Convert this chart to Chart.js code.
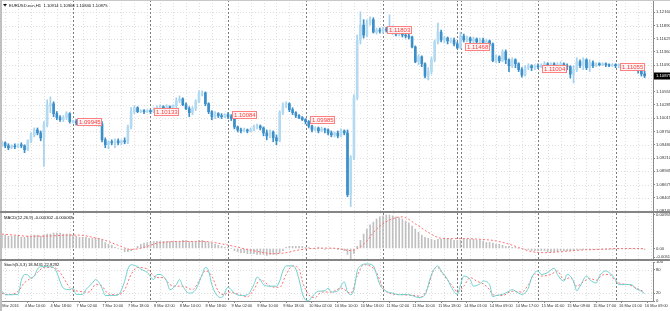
<!DOCTYPE html>
<html>
<head>
<meta charset="utf-8">
<script src="https://cdn.jsdelivr.net/npm/chart.js@4.4.1/dist/chart.umd.min.js"></script>
<style>
  html, body { margin: 0; padding: 0; background: #fff; }
  #wrap { position: relative; width: 670px; height: 311px; overflow: hidden; background: #fff; }
  canvas { position: absolute; left: 0; }
  .bar { position: absolute; z-index: 5; }
</style>
</head>
<body>
<div id="wrap">
  <canvas id="main" width="670" height="216" style="top:0"></canvas>
  <canvas id="macd" width="670" height="56" style="top:208px"></canvas>
  <canvas id="stoch" width="670" height="55" style="top:256px"></canvas>
  <div class="bar" style="left:0;top:0;width:670px;height:1px;background:#c8c8c8"></div>
  <div class="bar" style="left:0;top:0;width:2px;height:311px;background:#c0c0c0"></div>
  <div class="bar" style="left:0;top:211px;width:670px;height:2px;background:#858585"></div>
  <div class="bar" style="left:0;top:259px;width:670px;height:2px;background:#858585"></div>
</div>
<script>
// H1 bars, index 0 = 4 Mar 2016 02:00
const openP = [1.0948,1.0952,1.0946,1.0942,1.0946,1.0944,1.0948,1.0946,1.0938,1.0956,
  1.0968,1.0978,1.0972,1.0962,1.0988,1.1027,1.1031,1.1011,1.1003,1.0999,
  1.1003,1.1011,1.0995,1.0995,1.0992,1.0995,1.0992,1.0990,1.0992,1.0995,
  1.0992,1.0990,1.0958,1.0948,1.0954,1.0952,1.0956,1.0952,1.0956,1.0954,
  1.0984,1.1015,1.1023,1.1015,1.1017,1.1015,1.1017,1.1015,1.1019,1.1023,
  1.1025,1.1021,1.1025,1.1023,1.1027,1.1037,1.1041,1.1029,1.1021,1.1013,
  1.1021,1.1035,1.1051,1.1053,1.1031,1.1015,1.1005,1.1011,1.1007,1.1005,
  1.1009,1.1005,1.1001,1.0984,1.0978,1.0976,1.0978,1.0976,1.0978,1.0984,
  1.0986,1.0982,1.0972,1.0966,1.0974,1.0962,1.0956,1.1013,1.1027,1.1031,
  1.1019,1.1013,1.1007,1.1003,1.0999,1.0995,1.0986,1.0978,1.0982,1.0976,
  1.0980,1.0978,1.0972,1.0968,1.0972,1.0966,1.0976,1.0972,1.0847,1.0922,
  1.1043,1.1160,1.1190,1.1170,1.1194,1.1201,1.1176,1.1180,1.1178,1.1182,
  1.1180,1.1186,1.1176,1.1172,1.1174,1.1170,1.1168,1.1166,1.1146,1.1116,
  1.1126,1.1112,1.1087,1.1096,1.1120,1.1156,1.1176,1.1160,1.1164,1.1158,
  1.1160,1.1152,1.1144,1.1168,1.1160,1.1164,1.1158,1.1162,1.1156,1.1160,
  1.1154,1.1158,1.1152,1.1118,1.1126,1.1118,1.1136,1.1120,1.1108,1.1120,
  1.1112,1.1100,1.1089,1.1104,1.1108,1.1104,1.1108,1.1106,1.1108,1.1112,
  1.1110,1.1112,1.1108,1.1110,1.1112,1.1108,1.1106,1.1091,1.1100,1.1116,
  1.1108,1.1120,1.1104,1.1114,1.1108,1.1112,1.1110,1.1112,1.1110,1.1108,
  1.1110,1.1108,1.1108,1.1106,1.1108,1.1104,1.1106,1.1102,1.1098,1.10914];
const highP = [1.0956,1.0954,1.0950,1.0948,1.0950,1.0950,1.0952,1.0948,1.0958,1.0972,
  1.0982,1.0982,1.0976,1.0995,1.1039,1.1045,1.1035,1.1015,1.1007,1.1007,
  1.1015,1.1013,1.0997,1.0999,1.0997,1.0999,1.0997,1.0995,1.0997,1.0999,
  1.0997,1.0995,1.0962,1.0956,1.0958,1.0960,1.0960,1.0958,1.0962,1.0988,
  1.1023,1.1027,1.1025,1.1019,1.1019,1.1019,1.1019,1.1023,1.1027,1.1029,
  1.1027,1.1029,1.1027,1.1029,1.1043,1.1047,1.1043,1.1033,1.1025,1.1025,
  1.1039,1.1057,1.1057,1.1055,1.1033,1.1017,1.1015,1.1013,1.1011,1.1011,
  1.1013,1.1009,1.1003,1.0986,1.0982,1.0982,1.0980,1.0982,1.0988,1.0990,
  1.0988,1.0984,1.0978,1.0978,1.0976,1.0968,1.1017,1.1033,1.1035,1.1033,
  1.1023,1.1015,1.1009,1.1005,1.1001,1.0997,1.0988,1.0984,1.0984,1.0984,
  1.0982,1.0980,1.0976,1.0974,1.0976,1.0980,1.0978,1.0978,1.0926,1.1049,
  1.1170,1.1217,1.1201,1.1201,1.1207,1.1205,1.1184,1.1184,1.1186,1.1186,
  1.1211,1.1188,1.1180,1.1178,1.1176,1.1174,1.1172,1.1168,1.1148,1.1130,
  1.1128,1.1114,1.1104,1.1126,1.1160,1.1194,1.1180,1.1168,1.1166,1.1164,
  1.1164,1.1156,1.1176,1.1172,1.1168,1.1166,1.1166,1.1164,1.1164,1.1164,
  1.1162,1.1160,1.1154,1.1130,1.1128,1.1140,1.1140,1.1122,1.1124,1.1122,
  1.1114,1.1104,1.1108,1.1112,1.1110,1.1110,1.1112,1.1112,1.1116,1.1114,
  1.1114,1.1114,1.1114,1.1116,1.1114,1.1112,1.1108,1.1108,1.1124,1.1120,
  1.1124,1.1122,1.1120,1.1118,1.1114,1.1114,1.1114,1.1114,1.1112,1.1112,
  1.1112,1.1112,1.1110,1.1110,1.1110,1.1108,1.1108,1.1104,1.1100,1.10966];
const lowP = [1.0944,1.0942,1.0938,1.0940,1.0940,1.0942,1.0942,1.0932,1.0936,1.0952,
  1.0964,1.0968,1.0956,1.0904,1.0984,1.1013,1.1005,1.0999,1.0995,1.0995,
  1.0999,1.0992,1.0992,1.0988,1.0988,1.0990,1.0988,1.0986,1.0988,1.0990,
  1.0986,1.0954,1.0942,1.0940,1.0948,1.0942,1.0948,1.0948,1.0950,1.0950,
  1.0980,1.1011,1.1013,1.1013,1.1011,1.1013,1.1011,1.1013,1.1017,1.1019,
  1.1017,1.1019,1.1019,1.1021,1.1023,1.1033,1.1027,1.1019,1.1005,1.1009,
  1.1017,1.1033,1.1047,1.1027,1.1011,1.0999,1.1001,1.1003,1.1001,1.1003,
  1.1001,1.0997,1.0980,1.0974,1.0972,1.0974,1.0972,1.0974,1.0976,1.0980,
  1.0978,1.0966,1.0958,1.0962,1.0954,1.0948,1.0954,1.1009,1.1023,1.1015,
  1.1009,1.1003,1.1001,1.0997,1.0990,1.0982,1.0974,1.0976,1.0972,1.0974,
  1.0972,1.0968,1.0964,1.0964,1.0962,1.0964,1.0968,1.0843,1.0823,1.0918,
  1.1039,1.1152,1.1164,1.1166,1.1190,1.1174,1.1172,1.1174,1.1174,1.1176,
  1.1178,1.1172,1.1168,1.1168,1.1166,1.1164,1.1162,1.1144,1.1114,1.1110,
  1.1106,1.1083,1.1079,1.1091,1.1116,1.1152,1.1156,1.1154,1.1152,1.1154,
  1.1148,1.1142,1.1142,1.1156,1.1156,1.1154,1.1152,1.1150,1.1152,1.1150,
  1.1150,1.1148,1.1116,1.1114,1.1114,1.1116,1.1112,1.1096,1.1104,1.1104,
  1.1096,1.1085,1.1087,1.1100,1.1098,1.1100,1.1102,1.1104,1.1106,1.1106,
  1.1108,1.1104,1.1106,1.1106,1.1104,1.1100,1.1083,1.1073,1.1096,1.1104,
  1.1100,1.1100,1.1096,1.1104,1.1106,1.1108,1.1108,1.1106,1.1106,1.1106,
  1.1104,1.1104,1.1102,1.1102,1.1100,1.1102,1.1098,1.1093,1.1087,1.10840];
const closeP = [1.0952,1.0946,1.0942,1.0946,1.0944,1.0948,1.0946,1.0938,1.0956,1.0968,
  1.0978,1.0972,1.0962,1.0988,1.1027,1.1031,1.1011,1.1003,1.0999,1.1003,
  1.1011,1.0995,1.0995,1.0992,1.0995,1.0992,1.0990,1.0992,1.0995,1.0992,
  1.0990,1.0958,1.0948,1.0954,1.0952,1.0956,1.0952,1.0956,1.0954,1.0984,
  1.1015,1.1023,1.1015,1.1017,1.1015,1.1017,1.1015,1.1019,1.1023,1.1025,
  1.1021,1.1025,1.1023,1.1027,1.1037,1.1041,1.1029,1.1021,1.1013,1.1021,
  1.1035,1.1051,1.1053,1.1031,1.1015,1.1005,1.1011,1.1007,1.1005,1.1009,
  1.1005,1.1001,1.0984,1.0978,1.0976,1.0978,1.0976,1.0978,1.0984,1.0986,
  1.0982,1.0972,1.0966,1.0974,1.0962,1.0956,1.1013,1.1027,1.1031,1.1019,
  1.1013,1.1007,1.1003,1.0999,1.0995,1.0986,1.0978,1.0982,1.0976,1.0980,
  1.0978,1.0972,1.0968,1.0972,1.0966,1.0976,1.0972,1.0847,1.0922,1.1043,
  1.1160,1.1190,1.1170,1.1194,1.1201,1.1176,1.1180,1.1178,1.1182,1.1180,
  1.1186,1.1176,1.1172,1.1174,1.1170,1.1168,1.1166,1.1146,1.1116,1.1126,
  1.1112,1.1087,1.1096,1.1120,1.1156,1.1176,1.1160,1.1164,1.1158,1.1160,
  1.1152,1.1144,1.1168,1.1160,1.1164,1.1158,1.1162,1.1156,1.1160,1.1154,
  1.1158,1.1152,1.1118,1.1126,1.1118,1.1136,1.1120,1.1108,1.1120,1.1112,
  1.1100,1.1089,1.1104,1.1108,1.1104,1.1108,1.1106,1.1108,1.1112,1.1110,
  1.1112,1.1108,1.1110,1.1112,1.1108,1.1106,1.1091,1.1100,1.1116,1.1108,
  1.1120,1.1104,1.1114,1.1108,1.1112,1.1110,1.1112,1.1110,1.1108,1.1110,
  1.1108,1.1108,1.1106,1.1108,1.1104,1.1106,1.1102,1.1098,1.10914,1.10875];

const macdHist = [0.0038,0.0038,0.0035,0.0035,0.0035,0.0035,0.0032,0.0032,0.0035,0.0035,
  0.0038,0.0038,0.0035,0.0038,0.0041,0.0041,0.0044,0.0044,0.0044,0.0041,
  0.0041,0.0041,0.0038,0.0035,0.0032,0.0032,0.0032,0.0029,0.0029,0.0029,
  0.0029,0.0023,0.0017,0.0012,0.0009,0.0003,0.0000,-0.0003,-0.0009,-0.0009,
  -0.0006,0.0000,0.0006,0.0012,0.0015,0.0017,0.0017,0.0020,0.0020,0.0020,
  0.0020,0.0020,0.0020,0.0020,0.0020,0.0020,0.0023,0.0023,0.0020,0.0020,
  0.0020,0.0023,0.0023,0.0020,0.0017,0.0015,0.0012,0.0009,0.0006,0.0003,
  0.0003,0.0000,-0.0006,-0.0009,-0.0012,-0.0012,-0.0015,-0.0015,-0.0015,-0.0017,
  -0.0017,-0.0017,-0.0020,-0.0017,-0.0017,-0.0017,-0.0012,-0.0006,0.0003,0.0006,
  0.0006,0.0006,0.0006,0.0006,0.0003,0.0003,0.0000,0.0000,0.0003,0.0000,
  -0.0003,0.0000,0.0000,0.0000,-0.0003,-0.0003,-0.0006,-0.0017,-0.0029,-0.0015,
  0.0006,0.0023,0.0041,0.0055,0.0067,0.0075,0.0084,0.0090,0.0093,0.00955,
  0.0095,0.0093,0.0090,0.0087,0.0084,0.0078,0.0073,0.0064,0.0055,0.0046,
  0.0038,0.0032,0.0029,0.0026,0.0023,0.0026,0.0026,0.0026,0.0026,0.0026,
  0.0023,0.0023,0.0023,0.0026,0.0026,0.0026,0.0026,0.0023,0.0023,0.0020,
  0.0017,0.0017,0.0015,0.0012,0.0012,0.0009,0.0006,0.0006,0.0003,0.0003,
  0.0000,0.0000,-0.0003,-0.0003,-0.0006,-0.0006,-0.0006,-0.0006,-0.0006,-0.0009,
  -0.0009,-0.0009,-0.0009,-0.0006,-0.0006,-0.0006,-0.0006,-0.0006,-0.0003,-0.0003,
  -0.0003,-0.0003,-0.0003,-0.0003,-0.0003,-0.0003,-0.0003,-0.0003,-0.0003,-0.0003,
  -0.0001,-0.0001,-0.0001,-0.0001,-0.0001,-0.0001,-0.0001,-0.0001,-0.0001,-0.000302];
const macdSigBars = [0,4,8,12,16,20,24,28,32,36,40,44,48,52,56,60,64,68,72,76,80,84,88,92,96,
  100,104,108,112,116,120,124,128,132,136,140,144,148,152,156,160,164,168,172,176,180,184,188,192,196,199];
const macdSignal = [0.0041,0.0038,0.0035,0.0035,0.0036,0.0038,0.0038,0.0032,0.0023,0.0009,
  -0.0003,0.0003,0.0015,0.0019,0.0020,0.0020,0.0019,0.0013,0.0006,-0.0003,
  -0.0010,-0.0015,-0.0012,-0.0004,0.0000,0.0001,0.0000,-0.0006,0.0012,0.0055,
  0.0081,0.0090,0.0070,0.0046,0.0029,0.0028,0.0028,0.0026,0.0023,0.0015,
  0.0003,-0.0009,-0.0012,-0.0010,-0.0007,-0.0004,-0.0003,-0.0001,0.0000,0.0000,-0.000065];

const stochMainBars = [0,1,2,5,6,7,8,9,10,11,12,14,16,17,19,21,22,23,25,26,28,29,31,32,34,36,38,39,40,42,
  43,45,47,48,49,51,52,54,55,56,58,60,62,63,64,65,67,68,70,72,74,76,78,79,80,81,83,85,86,87,
  88,90,91,92,93,94,95,96,98,100,101,102,104,106,107,108,109,110,111,113,115,116,117,119,121,123,125,127,129,131,
  133,135,136,138,139,141,142,143,145,146,148,149,151,152,153,155,157,158,160,161,163,164,166,167,169,171,172,174,175,177,
  178,179,181,182,184,185,187,188,190,191,193,195,196,198,199];
const stochMain = [25,17,16,17,53,68,67,58,64,82,88,88,86,73,33,29,33,17,17,29,46,55,33,14,14,16,51,82,93,88,
  82,73,55,68,68,51,29,42,55,38,20,29,68,86,77,42,11,9,35,20,14,16,42,61,55,42,38,38,51,77,
  90,90,82,55,20,3,1,11,25,26,33,23,26,49,23,16,29,77,90,95,90,68,42,25,20,16,17,14,9,16,
  68,90,77,55,38,17,42,64,55,38,44,51,42,11,14,17,25,29,20,17,33,59,77,68,73,84,68,51,68,51,
  26,38,64,55,46,64,77,73,55,42,42,42,33,25,18.9431];
const stochSigBars = [0,2,5,7,10,11,13,16,18,20,21,24,27,29,31,33,36,38,40,42,45,47,48,50,52,54,56,59,61,63,
  65,67,69,70,73,76,78,80,81,83,86,88,90,92,93,95,97,99,102,105,108,110,112,114,116,118,120,124,128,130,
  132,134,135,136,137,140,141,143,145,147,149,151,152,155,158,161,163,165,167,170,172,174,176,178,180,182,184,186,188,190,
  192,194,196,199];
const stochSignal = [20,16,25,47,64,73,86,86,73,47,33,25,23,42,38,18,16,29,68,86,82,64,60,60,42,38,38,29,51,77,
  64,25,16,23,18,11,29,55,51,38,35,68,90,82,51,16,9,23,23,33,20,64,93,90,73,33,20,16,14,11,
  38,84,86,75,64,33,23,38,60,51,44,29,16,14,25,23,42,70,64,68,77,55,60,38,49,58,53,67,68,51,
  44,42,35,22.8292];

const priceTicks = [1.12160,1.11890,1.11625,1.11360,1.11090,1.10825,1.10555,1.10285,1.10015,
  1.09750,1.09480,1.09210,1.08945,1.08675,1.08405,1.08140];
const macdTicks = [0.009551, 0, -0.0025];
const macdTickText = ['0.009551', '0.00', '-0.005122'];
const stochTicks = [100, 80, 20, 0];
const timeTickBars = [0,8,16,24,32,40,48,56,64,72,80,88,96,104,112,120,128,136,144,152,160,168,176,184,192,200];
const timeLabels = ['4 Mar 2016','4 Mar 10:00','4 Mar 18:00','7 Mar 02:00','7 Mar 10:00','7 Mar 18:00',
  '8 Mar 02:00','8 Mar 10:00','8 Mar 18:00','9 Mar 02:00','9 Mar 10:00','9 Mar 18:00',
  '10 Mar 02:00','10 Mar 10:00','10 Mar 18:00','11 Mar 02:00','11 Mar 10:00','11 Mar 18:00',
  '14 Mar 01:00','14 Mar 09:00','14 Mar 17:00','15 Mar 01:00','15 Mar 09:00','15 Mar 17:00',
  '16 Mar 01:00','16 Mar 09:00'];
const daySepBars = [22,46,70,94,118,141,142,166,190];
const openLabelBars = [22,46,70,94,118,142,166,190];
const openLabelText = ['1.09945','1.10133','1.10084','1.09985','1.11803','1.11468','1.11004','1.11055'];
const lastPrice = 1.10875;

const FONT = 'Liberation Sans';
const small = { family: FONT, size: 4.2 };
const tiny = { family: FONT, size: 3.9 };
Chart.defaults.animation = false;

const barIdx = openP.map((_, i) => i);
const upCol = '#b3daf1', dnCol = '#3c8fc8';
const isUp = i => closeP[i] >= openP[i];

const mtGrid = {
  id: 'mtGrid',
  beforeDatasetsDraw(chart, args, opts) {
    const { ctx, chartArea: a, scales: { x, y } } = chart;
    const vline = px => { ctx.beginPath(); ctx.moveTo(px, a.top); ctx.lineTo(px, a.bottom); ctx.stroke(); };
    ctx.save();
    ctx.lineWidth = 1;
    ctx.setLineDash([1, 2]);
    ctx.strokeStyle = '#dedede';
    for (let i = 1; i <= 201; i += 4) vline(Math.round(x.getPixelForValue(i)) + 0.5);
    (opts.levels || []).forEach(v => {
      const py = Math.round(y.getPixelForValue(v)) + 0.5;
      ctx.beginPath(); ctx.moveTo(a.left, py); ctx.lineTo(a.right, py); ctx.stroke();
    });
    ctx.setLineDash([2, 2]);
    ctx.strokeStyle = '#7a7a7a';
    daySepBars.forEach(i => vline(Math.round(x.getPixelForValue(i)) + 0.5));
    ctx.restore();
  }
};

const mtTitle = {
  id: 'mtTitle',
  afterDraw(chart, args, opts) {
    const ctx = chart.ctx;
    ctx.save();
    ctx.font = `4.2px "${FONT}"`;
    ctx.fillStyle = '#111';
    ctx.textBaseline = 'middle';
    ctx.fillText(opts.text, opts.x, opts.y);
    ctx.restore();
  }
};

const mtMarks = {
  id: 'mtMarks',
  afterDatasetsDraw(chart) {
    const { ctx, scales: { x, y } } = chart;
    ctx.save();
    ctx.font = `6px "${FONT}"`;
    ctx.textBaseline = 'middle';
    openLabelBars.forEach((b, k) => {
      const px = Math.round(x.getPixelForValue(b)) + 4;
      const py = Math.round(y.getPixelForValue(parseFloat(openLabelText[k])));
      ctx.fillStyle = 'rgba(255,246,246,0.92)';
      ctx.fillRect(px, py - 3.5, 25, 7);
      ctx.strokeStyle = '#ff8080';
      ctx.lineWidth = 1;
      ctx.strokeRect(px + 0.5, py - 3.5, 24, 7);
      ctx.fillStyle = '#ff4040';
      ctx.fillText(openLabelText[k], px + 2, py + 0.5);
    });
    ctx.restore();
  },
  afterDraw(chart) {
    const { ctx, chartArea: a, scales: { y } } = chart;
    ctx.save();
    ctx.fillStyle = '#111';
    ctx.beginPath(); ctx.moveTo(3, 4); ctx.lineTo(7, 4); ctx.lineTo(5, 6.5); ctx.closePath(); ctx.fill();
    ctx.font = `4.2px "${FONT}"`;
    ctx.textBaseline = 'middle';
    ctx.fillText('EURUSD.ecn,H1  1.10914 1.10966 1.10840 1.10875', 9, 5.5);
    // current price box on the axis
    const py = Math.round(y.getPixelForValue(lastPrice));
    ctx.fillStyle = '#000';
    ctx.fillRect(a.right + 1, py - 3.5, 670 - a.right - 1, 7);
    ctx.fillStyle = '#fff';
    ctx.fillText(lastPrice.toFixed(5), a.right + 3, py);
    ctx.restore();
  }
};

function xAxis(show) {
  const ax = {
    type: 'linear', min: -0.6, max: 201.6, display: show, offset: false,
    grid: { drawOnChartArea: false, drawTicks: true, tickLength: 2, color: '#8a8a8a' },
    border: { display: true, color: '#8a8a8a' },
    afterBuildTicks: s => { s.ticks = timeTickBars.map(v => ({ value: v })); },
    ticks: {
      autoSkip: false, maxRotation: 0, align: 'start', labelOffset: -3, padding: 1,
      color: '#333', font: tiny, callback: (v, k) => timeLabels[k]
    }
  };
  if (show) ax.afterFit = s => { s.height = 10; s.paddingLeft = 0; s.paddingRight = 0; };
  return ax;
}

function yAxis(min, max, ticks, label) {
  return {
    position: 'right', min, max,
    grid: { drawOnChartArea: false, drawTicks: true, tickLength: 2, color: '#8a8a8a' },
    border: { display: true, color: '#8a8a8a' },
    afterBuildTicks: s => { s.ticks = ticks.map(v => ({ value: v })); },
    afterFit: s => { s.width = 17; s.paddingTop = 0; s.paddingBottom = 0; },
    ticks: { autoSkip: false, padding: 1, color: '#333', font: small, callback: label }
  };
}

const base = {
  responsive: false, devicePixelRatio: 1, events: [],
  plugins: { legend: { display: false }, tooltip: { enabled: false } }
};

new Chart(document.getElementById('main'), {
  type: 'bar',
  data: {
    datasets: [
      {
        data: barIdx.map(i => ({ x: i, y: [lowP[i], highP[i]] })),
        backgroundColor: barIdx.map(i => isUp(i) ? '#a4d1ee' : dnCol),
        barThickness: 1, grouped: false, order: 2
      },
      {
        data: barIdx.map(i => ({ x: i, y: [openP[i], closeP[i]] })),
        backgroundColor: barIdx.map(i => isUp(i) ? upCol : dnCol),
        barThickness: 2, minBarLength: 1, grouped: false, order: 1
      }
    ]
  },
  options: {
    ...base,
    layout: { padding: { top: 0, bottom: 5, left: 0, right: 0 } },
    scales: {
      x: xAxis(false),
      y: yAxis(1.08140, 1.12409, priceTicks, v => v.toFixed(5))
    },
    plugins: { ...base.plugins, mtGrid: { levels: priceTicks } }
  },
  plugins: [mtGrid, mtMarks]
});

new Chart(document.getElementById('macd'), {
  type: 'bar',
  data: {
    datasets: [
      {
        data: barIdx.map(i => ({ x: i, y: macdHist[i] })),
        backgroundColor: '#c0c0c0', barThickness: 1, grouped: false, order: 2
      },
      {
        type: 'line',
        data: macdSigBars.map((b, k) => ({ x: b, y: macdSignal[k] })),
        borderColor: '#ff7070', borderWidth: 1, borderDash: [2, 2],
        pointRadius: 0, cubicInterpolationMode: 'monotone', order: 1
      }
    ]
  },
  options: {
    ...base,
    layout: { padding: { top: 5, bottom: 5, left: 0, right: 0 } },
    scales: {
      x: xAxis(false),
      y: yAxis(-0.0030, 0.0101, macdTicks, (v, k) => macdTickText[k])
    },
    plugins: { ...base.plugins, mtGrid: { levels: [] },
      mtTitle: { text: 'MACD(12,26,9) -0.000302 -0.000065', x: 4, y: 10 } }
  },
  plugins: [mtGrid, mtTitle]
});

new Chart(document.getElementById('stoch'), {
  type: 'line',
  data: {
    datasets: [
      {
        data: stochMainBars.map((b, k) => ({ x: b, y: stochMain[k] })),
        borderColor: '#6fd0d0', borderWidth: 1, pointRadius: 0, cubicInterpolationMode: 'monotone'
      },
      {
        data: stochSigBars.map((b, k) => ({ x: b, y: stochSignal[k] })),
        borderColor: '#ff7070', borderWidth: 1, borderDash: [2, 2], pointRadius: 0,
        cubicInterpolationMode: 'monotone'
      }
    ]
  },
  options: {
    ...base,
    layout: { padding: { top: 6, bottom: 0, left: 0, right: 0 } },
    scales: {
      x: xAxis(true),
      y: yAxis(0, 100, stochTicks, v => String(v))
    },
    plugins: { ...base.plugins, mtGrid: { levels: [80, 20] },
      mtTitle: { text: 'Stoch(5,3,3) 18.9431 22.8292', x: 4, y: 9 } }
  },
  plugins: [mtGrid, mtTitle]
});
</script>
</body>
</html>
